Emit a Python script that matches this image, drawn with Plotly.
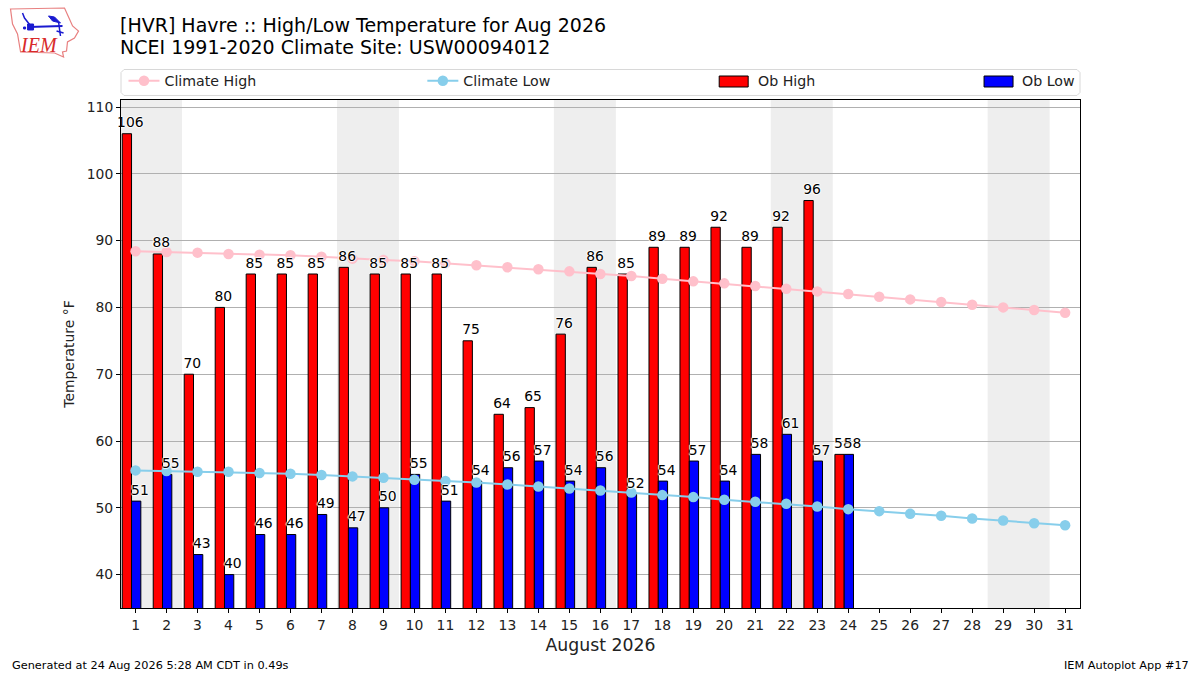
import plotly.graph_objects as go

days = list(range(1, 32))
ob_days = list(range(1, 25))
ob_high = [106, 88, 70, 80, 85, 85, 85, 86, 85, 85, 85, 75, 64, 65, 76, 86, 85, 89, 89, 92, 89, 92, 96, 58]
ob_low = [51, 55, 43, 40, 46, 46, 49, 47, 50, 55, 51, 54, 56, 57, 54, 56, 52, 54, 57, 54, 58, 61, 57, 58]
climate_high = [88.4, 88.3, 88.2, 88.0, 87.9, 87.8, 87.6, 87.3, 87.1, 86.9, 86.6, 86.3, 86.0, 85.7, 85.4, 85.0,
                84.7, 84.3, 83.9, 83.6, 83.2, 82.8, 82.4, 82.0, 81.6, 81.2, 80.8, 80.4, 80.0, 79.6, 79.2]
climate_low = [55.6, 55.5, 55.4, 55.4, 55.2, 55.1, 54.9, 54.7, 54.5, 54.2, 54.0, 53.8, 53.5, 53.2, 52.9, 52.6,
               52.3, 51.9, 51.6, 51.2, 50.9, 50.6, 50.2, 49.8, 49.5, 49.1, 48.8, 48.4, 48.1, 47.7, 47.4]
weekends = [(0.5, 2.5), (7.5, 9.5), (14.5, 16.5), (21.5, 23.5), (28.5, 30.5)]
y_ticks = [40, 50, 60, 70, 80, 90, 100, 110]

FONT = "DejaVu Sans"
L, R, T, B = 120.5, 1080, 100, 608
LABEL_LIFT = 0.45


def px(x, y):
    return (x - L) / (R - L), (B - y) / (B - T)


def path(points, close=True):
    out = []
    for i, (x, y) in enumerate(points):
        a, b = px(x, y)
        out.append(("M" if i == 0 else "L") + f"{a:.4f},{b:.4f}")
    return " ".join(out) + (" Z" if close else "")


def logo_line(points, color, width=1.5, fill=None, close=False):
    return dict(type="path", xref="paper", yref="paper", path=path(points, close), layer="above",
                line=dict(color=color, width=width), fillcolor=fill)


def swatch(x0, x1, y0, y1, color):
    a0, b0 = px(x0, y0)
    a1, b1 = px(x1, y1)
    return dict(type="rect", xref="paper", yref="paper", x0=a0, x1=a1, y0=b0, y1=b1, fillcolor=color,
                line=dict(color="black", width=1), layer="above")


fig = go.Figure()

fig.add_trace(go.Bar(x=ob_days, y=ob_high, width=0.3, offset=-0.43, name="Ob High", marker=dict(color="#ff0000", line=dict(color="black", width=1)), showlegend=False))
fig.add_trace(go.Bar(x=ob_days, y=ob_low, width=0.3, offset=-0.13, name="Ob Low", marker=dict(color="#0000ff", line=dict(color="black", width=1)), showlegend=False))

fig.add_trace(go.Scatter(x=days, y=climate_high, mode="lines+markers", name="Climate High", line=dict(color="#ffc0cb", width=2), marker=dict(color="#ffc0cb", size=10.5), legend="legend"))
fig.add_trace(go.Scatter(x=days, y=climate_low, mode="lines+markers", name="Climate Low", line=dict(color="#87ceeb", width=2), marker=dict(color="#87ceeb", size=10.5), legend="legend2"))

halo = "white 1px 0px 1px, white -1px 0px 1px, white 0px 1px 1px, white 0px -1px 1px"
fig.add_trace(go.Scatter(x=[d - 0.17 for d in ob_days], y=[v + LABEL_LIFT for v in ob_high], mode="text", text=[str(v) for v in ob_high], textposition="top center", textfont=dict(family=FONT, size=13.9, color="black", shadow=halo), showlegend=False, hoverinfo="skip", cliponaxis=False))
fig.add_trace(go.Scatter(x=[d + 0.14 for d in ob_days], y=[v + LABEL_LIFT for v in ob_low], mode="text", text=[str(v) for v in ob_low], textposition="top center", textfont=dict(family=FONT, size=13.9, color="black", shadow=halo), showlegend=False, hoverinfo="skip", cliponaxis=False))

shapes = [dict(type="rect", xref="x", yref="paper", x0=a, x1=b, y0=0, y1=1, fillcolor="#eeeeee", line_width=0, layer="below") for a, b in weekends]

# legend frame, rounded corners
x0, x1, y0, y1, r = 120.5, 1080, 69.5, 95.5, 3
corners = [(x0 + r, y0), (x1 - r, y0), (x1, y0 + r), (x1, y1 - r), (x1 - r, y1), (x0 + r, y1), (x0, y1 - r), (x0, y0 + r)]
shapes.append(dict(type="path", xref="paper", yref="paper", path=path(corners), fillcolor="white", line=dict(color="#d8d8d8", width=1), layer="below"))
shapes.append(swatch(719, 748, 76, 87, "#ff0000"))
shapes.append(swatch(984, 1013, 76, 87, "#0000ff"))

# IEM logo
red = "#e88080"
blue = "#1a1ad0"
shapes += [
    logo_line([(10, 9), (64, 8), (68, 17), (72, 26), (78, 31), (74, 38), (67, 42), (66, 51), (62, 52), (63, 57), (54, 53), (20, 52), (17, 34), (12, 24)], red, 1.2, None, True),
    logo_line([(28, 27), (62, 26)], blue, 2),
    logo_line([(22, 13), (24, 18), (31, 27)], blue, 1.5),
    logo_line([(48, 16), (54, 17), (60, 23), (52, 21)], blue, 1, blue, True),
    logo_line([(58, 22), (60, 36)], blue, 1.5),
    logo_line([(56, 31), (63, 33)], blue, 1.5),
    logo_line([(27, 24), (33, 24), (33, 30), (27, 30)], blue, 1, blue, True),
    logo_line([(23, 27), (25, 27), (25, 29), (23, 29)], blue, 1, blue, True),
]

annotations = []


def note(x, y, text, size, xanchor="left", yanchor="middle", family=FONT, color="black"):
    a, b = px(x, y)
    annotations.append(dict(xref="paper", yref="paper", x=a, y=b, text=text, showarrow=False, xanchor=xanchor, yanchor=yanchor, font=dict(family=family, size=size, color=color)))


note(117, 24.5, "[HVR] Havre :: High/Low Temperature for Aug 2026", 19)
note(117, 47.5, "NCEI 1991-2020 Climate Site: USW00094012", 19)
note(9, 665, "Generated at 24 Aug 2026 5:28 AM CDT in 0.49s", 11.3)
note(1191, 665, "IEM Autoplot App #17", 11.3, "right")
note(17, 45, "<i>IEM</i>", 20, "left", "middle", "Liberation Serif", "#d82a2a")
note(756, 81, "Ob High", 14.2, color="#222222")
note(1020, 81, "Ob Low", 14.2, color="#222222")


def legend_at(x):
    a, b = px(x, 81)
    return dict(x=a, y=b, xanchor="left", yanchor="middle", bgcolor="rgba(0,0,0,0)", borderwidth=0, itemwidth=31, font=dict(family=FONT, size=14.2, color="#222222"), orientation="h")


fig.update_layout(
    width=1200,
    height=675,
    margin=dict(l=L, r=1200 - R, t=T, b=675 - B, pad=0),
    paper_bgcolor="white",
    plot_bgcolor="rgba(0,0,0,0)",
    barmode="overlay",
    font=dict(family=FONT, size=13.9, color="#222222"),
    showlegend=True,
    legend=legend_at(123),
    legend2=legend_at(422),
    shapes=shapes,
    annotations=annotations,
    xaxis=dict(
        range=[0.53, 31.48], tickmode="array", tickvals=days, ticktext=[str(d) for d in days],
        ticks="outside", ticklen=4, tickwidth=1, tickcolor="black", showgrid=False, zeroline=False,
        showline=True, linecolor="black", linewidth=1, mirror=True,
        title=dict(text="August 2026", font=dict(family=FONT, size=17.3), standoff=7),
        tickfont=dict(family=FONT, size=13.9, color="#222222"),
    ),
    yaxis=dict(
        range=[35, 111.05], tickmode="array", tickvals=y_ticks,
        ticks="outside", ticklen=4, tickwidth=1, tickcolor="black", showgrid=True, gridcolor="#b0b0b0", gridwidth=1,
        zeroline=False, showline=True, linecolor="black", linewidth=1, mirror=True,
        title=dict(text="Temperature °F", font=dict(family=FONT, size=13.9), standoff=8),
        tickfont=dict(family=FONT, size=13.9, color="#222222"),
    ),
)

fig.write_html("out.html", post_script="document.body.style.margin='0';", config=dict(displayModeBar=False))
